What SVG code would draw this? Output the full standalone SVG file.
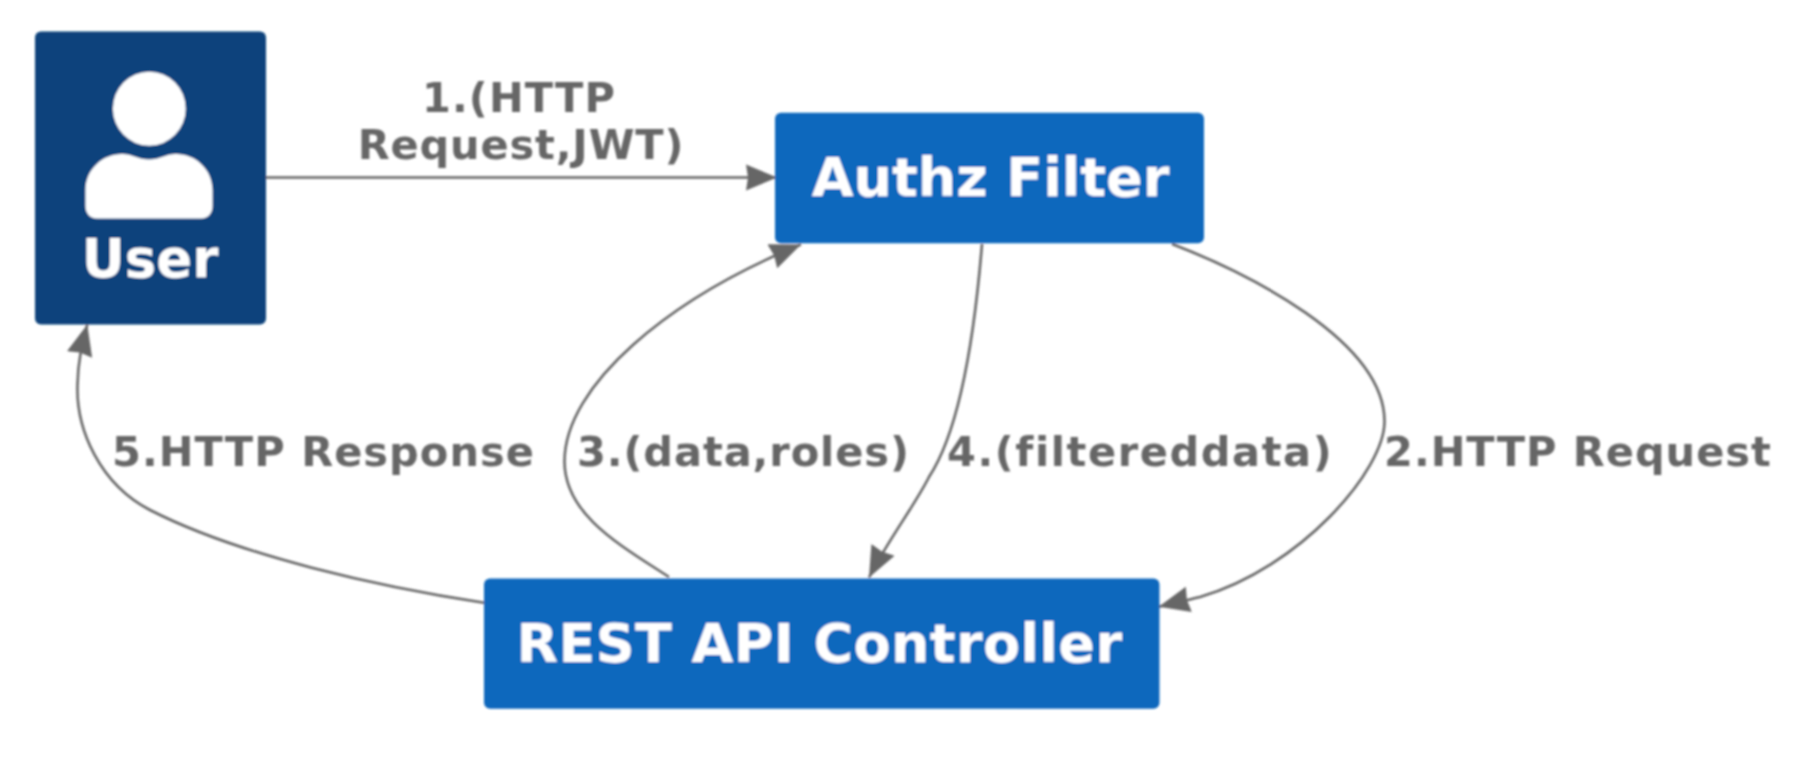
<svg xmlns="http://www.w3.org/2000/svg" width="1798" height="760" viewBox="0 0 1798 760">
<style>
.t{font-family:"DejaVu Sans",sans-serif;font-weight:700;font-variant-ligatures:none}
.n{font-size:54px;fill:#fff;text-anchor:middle}
.l{font-size:41.5px;fill:#666}
.c{fill:none;stroke:#666;stroke-width:2.6;marker-end:url(#a)}
</style>
<defs>
<marker id="a" markerUnits="userSpaceOnUse" markerWidth="36" markerHeight="30" viewBox="0 -15 36 30" refX="31" refY="0" orient="auto"><path d="M0,-13L31,0L0,13L2,0Z" fill="#666"/></marker>
<filter id="b" x="-5%" y="-5%" width="110%" height="110%"><feGaussianBlur stdDeviation="0.85"/></filter>
</defs>
<rect width="1798" height="760" fill="#fff"/>
<g filter="url(#b)">
<g id="connectors">
<path class="c" d="M266,177.5L777,177.5"/>
<path class="c" d="M1172,244C1245,272 1384,340 1384.5,421C1385,470 1300,568 1200,597C1186,600.5 1172,603.5 1158.7,606.7"/>
<path class="c" d="M669,577C620,545 565,515 564.5,462C564,385 670,298 801,244.5"/>
<path class="c" d="M982,244C975,330 960,430 929,477C915,505 888,540 869,577.5"/>
<path class="c" d="M484,602.7C380,587 240,556 150,510C100,484 76,430 77.5,385C78,360 82,345 87.3,324.5"/>
</g>
<g id="user">
<rect x="35" y="31.5" width="231" height="293" rx="6" fill="#08427b"/>
<ellipse cx="149.3" cy="108.7" rx="36.4" ry="37" fill="#fff"/>
<path d="M97,218.5C90,218.5 85.5,213 85.5,206V190C85.5,169 103,154 122,154C132,154 138,159.5 149,159.5C160,159.5 166,154 176,154C195,154 212.5,169 212.5,190V206C212.5,213 208,218.5 201,218.5Z" fill="#fff"/>
<text class="t n" x="150" y="276.7" style="font-size:53px">User</text>
</g>
<g id="authz-filter">
<rect x="775" y="112.7" width="429" height="130.6" rx="6" fill="#1168bd"/>
<text class="t n" x="990.5" y="196.2">Authz Filter</text>
</g>
<g id="rest-api-controller">
<rect x="484" y="578.5" width="675.5" height="130.3" rx="6" fill="#1168bd"/>
<text class="t n" x="819.5" y="661.7" letter-spacing="0.4">REST API Controller</text>
</g>
<g id="labels">
<text class="t l" x="519" y="111.7" text-anchor="middle" letter-spacing="1.07">1.(HTTP</text>
<text class="t l" x="521" y="159.3" text-anchor="middle" letter-spacing="0.86">Request,JWT)</text>
<text class="t l" x="112" y="466" letter-spacing="1.05">5.HTTP Response</text>
<text class="t l" x="577" y="466" letter-spacing="0.92">3.(data,roles)</text>
<text class="t l" x="947" y="466" letter-spacing="1.58">4.(filtereddata)</text>
<text class="t l" x="1384" y="466" letter-spacing="1">2.HTTP Request</text>
</g>
</g>
</svg>
